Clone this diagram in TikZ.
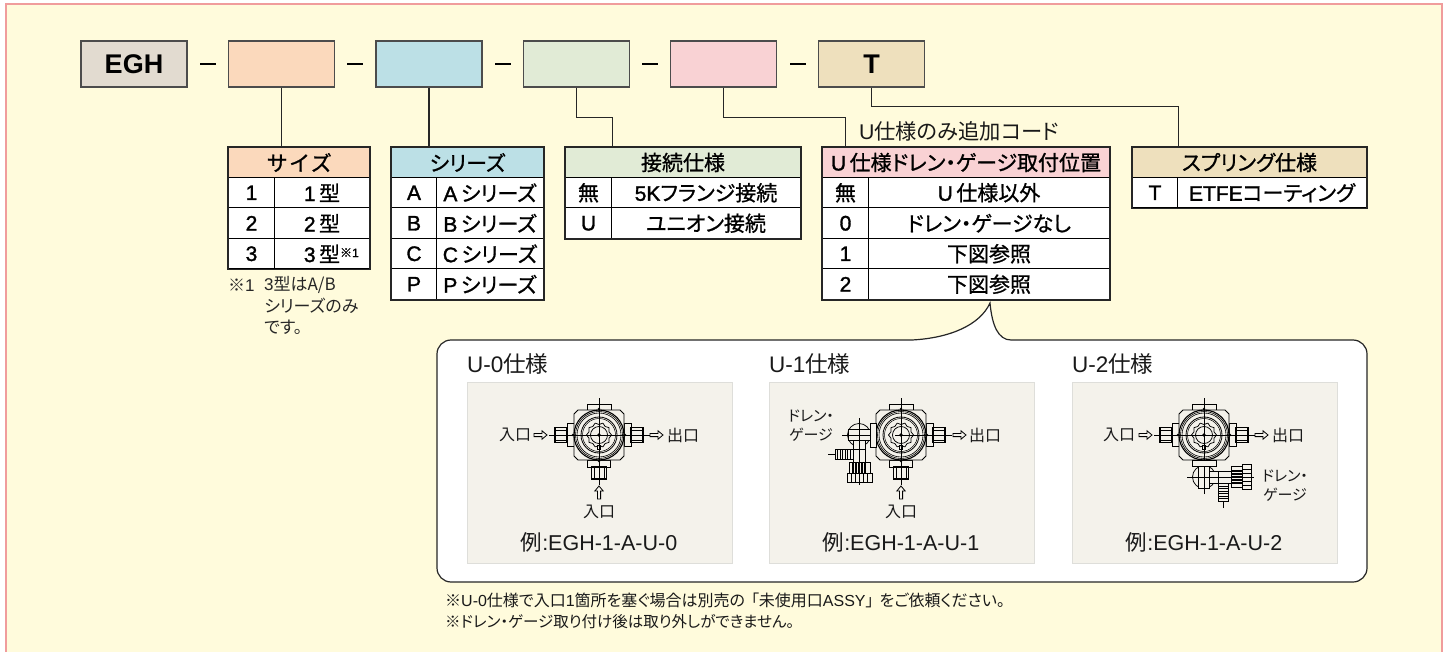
\documentclass[tikz,border=0pt]{standalone}
\usepackage{fontspec}
\setmainfont{Liberation Sans}
\newfontfamily\jpreg[RawFeature=+palt]{Noto Sans CJK JP}
\newfontfamily\jpmed[RawFeature=+palt,FakeBold=0.9]{Noto Sans CJK JP}
\newfontfamily\latmed[FakeBold=1.5]{Liberation Sans}
\usetikzlibrary{calc}

\definecolor{paperCol}{HTML}{FFFBDC}
\definecolor{frameCol}{HTML}{F09C9C}
\definecolor{eghCol}{HTML}{E2DBD0}
\definecolor{sizeCol}{HTML}{FBD9BC}
\definecolor{seriesCol}{HTML}{BCE0E6}
\definecolor{connCol}{HTML}{E1EBD6}
\definecolor{drainCol}{HTML}{F9D2D4}
\definecolor{springCol}{HTML}{EEE0BD}
\definecolor{panelCol}{HTML}{F4F2EB}
\definecolor{panelEdge}{HTML}{DEDEDA}

% kana stay in this family, whichever weight the node asked for
\newcommand{\J}[1]{{\jpcur #1}}
\let\jpcur\jpreg

\tikzset{
	codebox/.style={draw=black!70, line width=1.2pt, minimum width=106pt, minimum height=46pt, inner sep=0pt, font=\bfseries\fontsize{27}{27}\selectfont},
	sepdash/.style={fill=black, minimum width=16pt, minimum height=2.6pt, inner sep=0pt},
	link/.style={line width=#1, draw=black!85},
	link/.default=1pt,
	cell/.style={draw=black, fill=white, line width=1pt, inner sep=0pt, anchor=north west, minimum height=30.5pt, font=\latmed\let\jpcur\jpmed\fontsize{21}{21}\selectfont},
	headcell/.style={cell, minimum height=30pt},
	tableedge/.style={draw=black!85, line width=1.7pt},
	note/.style={inner sep=0pt, anchor=west, text=black!85, font=\fontsize{17}{17}\selectfont},
	label/.style={inner sep=0pt, text=black!90, font=\fontsize{16}{16}\selectfont},
	paneltext/.style={inner sep=0pt, text=black!90, font=\fontsize{21.5}{21.5}\selectfont},
	paneltitle/.style={inner sep=0pt, anchor=west, text=black!90, font=\fontsize{22.5}{22.5}\selectfont},
	footnote/.style={inner sep=0pt, anchor=west, text=black!90, font=\fontsize{15.5}{15.5}\selectfont},
	panelbox/.style={draw=panelEdge, fill=panelCol, line width=1.2pt, anchor=north west, minimum width=265pt, minimum height=181pt, inner sep=0pt},
	valveline/.style={line width=0.75pt, draw=black},
	centreline/.style={line width=0.7pt, draw=black},
	flowarrow/.pic={
		\draw[line width=0.8pt, draw=black, fill=panelCol] (0,-1.6) -- (8,-1.6) -- (8,-4.2) -- (13,0) -- (8,4.2) -- (8,1.6) -- (0,1.6) -- cycle;
	},
	valvebody/.pic={
		\draw[valveline, fill=panelCol] (-12,-31) rectangle (12,-24);
		\draw[valveline, fill=panelCol] (-21,-25) -- (21,-25) -- (25,-21) -- (25,21) -- (21,25) -- (-21,25) -- (-25,21) -- (-25,-21) -- cycle;
		\foreach \rad/\wid in {25/1.1,23.5/0.6,22/0.6,18/0.8,16.5/0.5} {
			\draw[line width=\wid pt] (0,0) circle [radius=\rad];
		}
		% hub with its ten points
		\foreach \ang in {0,36,...,324} {
			\draw[valveline] (\ang:12.5) -- (\ang+18:10.5) -- (\ang+36:12.5);
		}
		\draw[valveline] (0,0) circle [radius=8.5];
		\fill (0,0) circle [radius=1.8];
		\fill (0,-26) circle [radius=1.3];
		\fill (0,26) circle [radius=1.3];
		\fill (-26,0) circle [radius=1.3];
		\fill (26,0) circle [radius=1.3];
		\draw[line width=1pt] (-1.2,10.5) rectangle (1.2,14);
	},
	valveport/.pic={
		\draw[valveline, fill=panelCol] (25,-11.5) rectangle (32,11.5);
		\draw[line width=1.4pt, fill=panelCol] (32,-7.5) rectangle (44,7.5);
		\draw[valveline] (32,-5) -- (44,-5);
		\draw[valveline] (32,5) -- (44,5);
	},
	% drain and gauge part, drawn as it hangs on the left of the valve
	drainpart/.pic={
		\draw[valveline] (0,0) circle [radius=11.5];
		\draw[line width=1pt, fill=panelCol] (-11,-5.5) rectangle (11,5.5);
		\draw[valveline, fill=panelCol] (11,-12) rectangle (17,12);
		\draw[valveline, fill=panelCol] (-6,5.5) rectangle (6,27);
		\draw[valveline] (-6,14) -- (6,14);
		% barb
		\draw[valveline, fill=panelCol] (-24,14.5) rectangle (-6,24);
		\foreach \x in {-21.5,-19,...,-9} {
			\draw[valveline] (\x,14.5) -- (\x,24);
		}
		\draw[centreline] (-31,19) -- (-24,19);
		% nut and cap
		\draw[line width=1pt, fill=panelCol] (-10,27) rectangle (11,38);
		\foreach \x in {-6,-3,0,3,6} {
			\draw[line width=1.2pt] (\x,27) -- (\x,38);
		}
		\draw[valveline, fill=panelCol] (-12,38) rectangle (13,47);
		\foreach \x in {-8,-4,0,4,8} {
			\draw[valveline] (\x,38) -- (\x,47);
		}
		\draw[centreline] (-17,0) -- (11,0);
		\draw[centreline] (0,-17) -- (0,47);
		\draw[centreline, dashed] (0,47) -- (0,53);
	},
}

\begin{document}
\begin{tikzpicture}[x=1pt,y=-1pt]

	\useasboundingbox (0,0) rectangle (1450,652);

	% paper and its frame, which runs off the bottom
	\fill[paperCol] (6,4.5) rectangle (1442,652);
	\draw[frameCol, line width=2pt] (6,652) -- (6,4.5) -- (1442,4.5) -- (1442,652);

	% the code line
	\node[codebox, fill=eghCol] (eghBox) at (134,64) {EGH};
	\node[codebox, fill=sizeCol] (sizeBox) at (281.5,64) {};
	\node[codebox, fill=seriesCol] (seriesBox) at (429,64) {};
	\node[codebox, fill=connCol] (connBox) at (576.5,64) {};
	\node[codebox, fill=drainCol] (drainBox) at (723.5,64) {};
	\node[codebox, fill=springCol] (springBox) at (871.5,64) {T};
	\foreach \n/\x in {a/208,b/355,c/503,d/650,e/798} {
		\node[sepdash] (dash\n) at (\x,64) {};
	}

	% size table
	\node[headcell, fill=sizeCol, minimum width=141pt] (sizeHead) at (228,147) {\J{サ\kern3pt イ\kern3pt ズ}};
	\foreach \i/\key/\val in {1/1/1\,\J{型},2/2/2\,\J{型},3/3/3\,\J{型}\rlap{\raisebox{5pt}{\fontsize{12}{12}\selectfont\J{※}1}}} {
		\node[cell, minimum width=46pt] (sizeKey\i) at (228,177+30.5*\i-30.5) {\key};
		\node[cell, minimum width=95pt] (sizeVal\i) at (274,177+30.5*\i-30.5) {\val};
	}
	\draw[tableedge] (sizeHead.north west) rectangle (sizeVal3.south east);
	\node[note] (sizeMark) at (228,285) {\J{※}1};
	\node[note] (sizeNoteA) at (264,285) {3\J{型はA/B}};
	\node[note] (sizeNoteB) at (264,306) {\J{シリーズのみ}};
	\node[note] (sizeNoteC) at (264,327) {\J{です。}};

	% series table
	\node[headcell, fill=seriesCol, minimum width=152pt] (seriesHead) at (391,147) {\J{シリーズ}};
	\foreach \i/\key in {1/A,2/B,3/C,4/P} {
		\node[cell, minimum width=45pt] (seriesKey\i) at (391,177+30.5*\i-30.5) {\key};
		\node[cell, minimum width=107pt] (seriesVal\i) at (436,177+30.5*\i-30.5) {\key\,\J{シリーズ}};
	}
	\draw[tableedge] (seriesHead.north west) rectangle (seriesVal4.south east);

	% connection table
	\node[headcell, fill=connCol, minimum width=235pt] (connHead) at (565,147) {\J{接続仕様}};
	\foreach \i/\key/\val in {1/\J{無}/5K\J{フランジ接続},2/U/\J{ユニオン接続}} {
		\node[cell, minimum width=46pt] (connKey\i) at (565,177+30.5*\i-30.5) {\key};
		\node[cell, minimum width=189pt] (connVal\i) at (611,177+30.5*\i-30.5) {\val};
	}
	\draw[tableedge] (connHead.north west) rectangle (connVal2.south east);

	% drain position table
	\node[headcell, fill=drainCol, minimum width=287pt] (drainHead) at (822,147) {U\,\J{仕様ドレン・ゲージ取付位置}};
	\foreach \i/\key/\val in {1/\J{無}/U\,\J{仕様以外},2/0/\J{ドレン・ゲージなし},3/1/\J{下図参照},4/2/\J{下図参照}} {
		\node[cell, minimum width=46pt] (drainKey\i) at (822,177+30.5*\i-30.5) {\key};
		\node[cell, minimum width=241pt] (drainVal\i) at (868,177+30.5*\i-30.5) {\val};
	}
	\draw[tableedge] (drainHead.north west) rectangle (drainVal4.south east);
	\node[inner sep=0pt, anchor=west, text=black!90, font=\fontsize{21.3}{21.3}\selectfont] (drainExtra) at (859,131) {U\J{仕様のみ追加コード}};

	% spring table
	\node[headcell, fill=springCol, minimum width=234pt] (springHead) at (1132,147) {\J{スプリング仕様}};
	\node[cell, minimum width=45pt] (springKey1) at (1132,177) {T};
	\node[cell, minimum width=189pt] (springVal1) at (1177,177) {ETFE\J{コーティング}};
	\draw[tableedge] (springHead.north west) rectangle (springVal1.south east);

	% links from the code line down to the tables
	\draw[link=1.8pt] (sizeBox.south) -- (sizeBox.south |- sizeHead.north);
	\draw[link=1.8pt] (seriesBox.south) -- (seriesBox.south |- seriesHead.north);
	\draw[link] (connBox.south) -- ++(0,30) -| (connKey1.east |- connHead.north);
	\draw[link] (drainBox.south) -- ++(0,30) -| (drainKey1 |- drainHead.north);
	\draw[link] (springBox.south) -- ++(0,19) -| (springKey1.east |- springHead.north);

	% callout with its tail under the drain table
	\draw[fill=white, draw=black!85, line width=1.2pt] (451,340) -- (912,340) .. controls (950,338) and (980,325) .. (990,303) .. controls (992,325) and (998,340) .. (1011,340) -- (1353,340) arc [start angle=-90, end angle=0, radius=14] -- (1367,568) arc [start angle=0, end angle=90, radius=14] -- (451,582) arc [start angle=90, end angle=180, radius=14] -- (437,354) arc [start angle=180, end angle=270, radius=14] -- cycle;

	\foreach \p/\x/\cx in {0/467/599,1/769/901,2/1072/1204} {
		\node[panelbox] (panel\p) at (\x,382) {};
		\node[paneltitle] (title\p) at (\x,364) {U-\p\J{仕様}};
		\node[paneltext] (example\p) at (\cx,542) {\J{例}:EGH-1-A-U-\p};
		\coordinate (valve\p) at (\cx,435);
	}

	% U-0
	\pic at (valve0) {valveport};
	\pic[rotate=180] at (valve0) {valveport};
	\pic[rotate=-90] at (valve0) {valveport};
	\pic at (valve0) {valvebody};
	\draw[centreline] ($(valve0)+(-50,0)$) -- ($(valve0)+(51,0)$);
	\draw[centreline] ($(valve0)+(0,-37)$) -- ($(valve0)+(0,50)$);
	\node[label] (inA0) at (515,435) {\J{入口}};
	\pic at (534,435) {flowarrow};
	\pic at (650,435) {flowarrow};
	\node[label] (outA0) at (683,435) {\J{出口}};
	\pic[rotate=90] at (599,499) {flowarrow};
	\node[label] (inB0) at (599,512) {\J{入口}};

	% U-1
	\pic at (valve1) {valveport};
	\pic[rotate=-90] at (valve1) {valveport};
	\pic at (valve1) {valvebody};
	\draw[centreline] ($(valve1)+(-6,0)$) -- ($(valve1)+(51,0)$);
	\draw[centreline] ($(valve1)+(0,-37)$) -- ($(valve1)+(0,50)$);
	\pic at ($(valve1)+(-42,0)$) {drainpart};
	\node[label, align=center, font=\fontsize{15}{19}\selectfont] (drainLabel1) at (811,426) {\J{ドレン・}\\\J{ゲージ}};
	\pic at (953,435) {flowarrow};
	\node[label] (outA1) at (985,435) {\J{出口}};
	\pic[rotate=90] at (901,499) {flowarrow};
	\node[label] (inB1) at (901,512) {\J{入口}};

	% U-2
	\pic at (valve2) {valveport};
	\pic[rotate=180] at (valve2) {valveport};
	\pic at (valve2) {valvebody};
	\draw[centreline] ($(valve2)+(-50,0)$) -- ($(valve2)+(51,0)$);
	\draw[centreline] ($(valve2)+(0,-37)$) -- ($(valve2)+(0,25)$);
	\pic[rotate=90] at ($(valve2)+(0,42)$) {drainpart};
	\node[label] (inA2) at (1119,435) {\J{入口}};
	\pic at (1139,435) {flowarrow};
	\pic at (1255,435) {flowarrow};
	\node[label] (outA2) at (1288,435) {\J{出口}};
	\node[label, align=center, font=\fontsize{15}{19}\selectfont] (drainLabel2) at (1285,486) {\J{ドレン・}\\\J{ゲージ}};

	% notes under the callout
	\node[footnote, font=\fontsize{16}{16}\selectfont] (noteA) at (445,600) {\J{※}U-0\J{仕様で入口}1\J{箇所を塞ぐ場合は別売の\hspace{6pt}「未使用口}ASSY\J{」\hspace{6pt}をご依頼ください。}};
	\node[footnote] (noteB) at (445,622) {\J{※ドレン・ゲージ取り付け後は取り外しができません。}};

\end{tikzpicture}
\end{document}
